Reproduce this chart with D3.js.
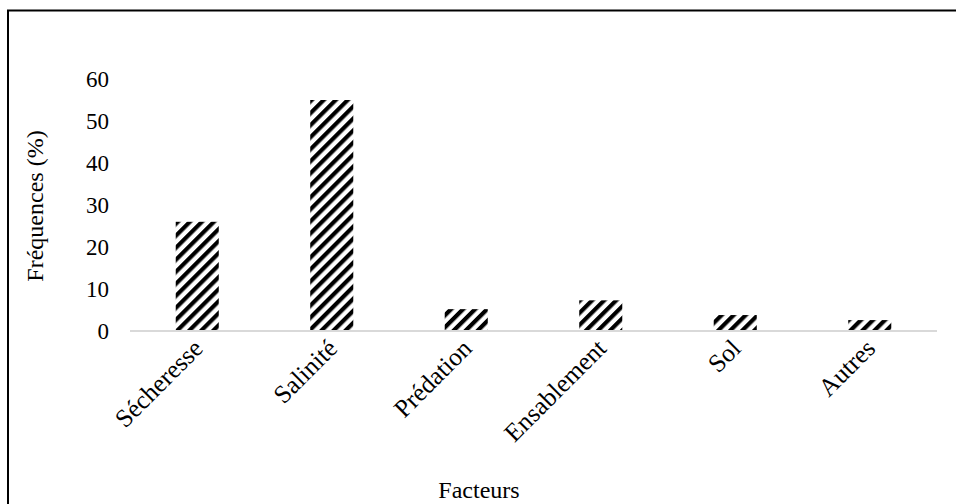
<!DOCTYPE html>
<html><head><meta charset="utf-8">
<script src="https://cdn.jsdelivr.net/npm/d3@7"></script>
<style>body{margin:0;background:#fff}svg{display:block}text{font-family:"Liberation Serif","Times New Roman",serif;fill:#000}</style>
</head><body><svg id="c" width="956" height="504"></svg>
<script>
const categories = ["Sécheresse","Salinité","Prédation","Ensablement","Sol","Autres"];
const values = [26, 55, 5.2, 7.3, 3.8, 2.6];
const yTicks = [0,10,20,30,40,50,60];
const yTitle = "Fréquences (%)";
const xTitle = "Facteurs";

const svg = d3.select("#c");
svg.append("rect").attr("x",8).attr("y",10.5).attr("width",960).attr("height",520)
  .attr("fill","none").attr("stroke","#000").attr("stroke-width",2);

const defs = svg.append("defs");
const pat = defs.append("pattern").attr("id","hatch").attr("patternUnits","userSpaceOnUse")
  .attr("width",8.5).attr("height",8.5).attr("patternTransform","rotate(45)");
pat.append("rect").attr("width",8.5).attr("height",8.5).attr("fill","#fff");
pat.append("rect").attr("x",0).attr("width",4.2).attr("height",8.5).attr("fill","#000");

const x = d3.scaleBand().domain(categories).range([130,937]).paddingInner(0.68).paddingOuter(0.34);
const y = d3.scaleLinear().domain([0,60]).range([331,79]);

svg.append("g").selectAll("rect").data(values).join("rect")
  .attr("x",(d,i)=>x(categories[i])).attr("width",x.bandwidth())
  .attr("y",d=>y(d)).attr("height",d=>y(0)-y(d)).attr("fill","url(#hatch)");

svg.append("line").attr("x1",130).attr("x2",937).attr("y1",y(0)).attr("y2",y(0))
  .attr("stroke","#d9d9d9").attr("stroke-width",2);

const yAxis = svg.append("g").attr("transform","translate(109,0)")
  .call(d3.axisLeft(y).tickValues(yTicks).tickSize(0).tickPadding(0));
yAxis.select(".domain").remove();
yAxis.selectAll("text").attr("font-size",23).style("font-family",'"Liberation Serif",serif');

const xg = svg.append("g");
categories.forEach(c=>{
  const cx = x(c)+x.bandwidth()/2;
  xg.append("text").attr("transform",`translate(${cx+7},${350}) rotate(-45)`)
    .attr("text-anchor","end").attr("font-size",25.5).text(c);
});

svg.append("text").attr("transform","translate(43,206) rotate(-90)")
  .attr("text-anchor","middle").attr("font-size",24).text(yTitle);
svg.append("text").attr("x",479).attr("y",498).attr("text-anchor","middle")
  .attr("font-size",24).text(xTitle);
</script></body></html>
